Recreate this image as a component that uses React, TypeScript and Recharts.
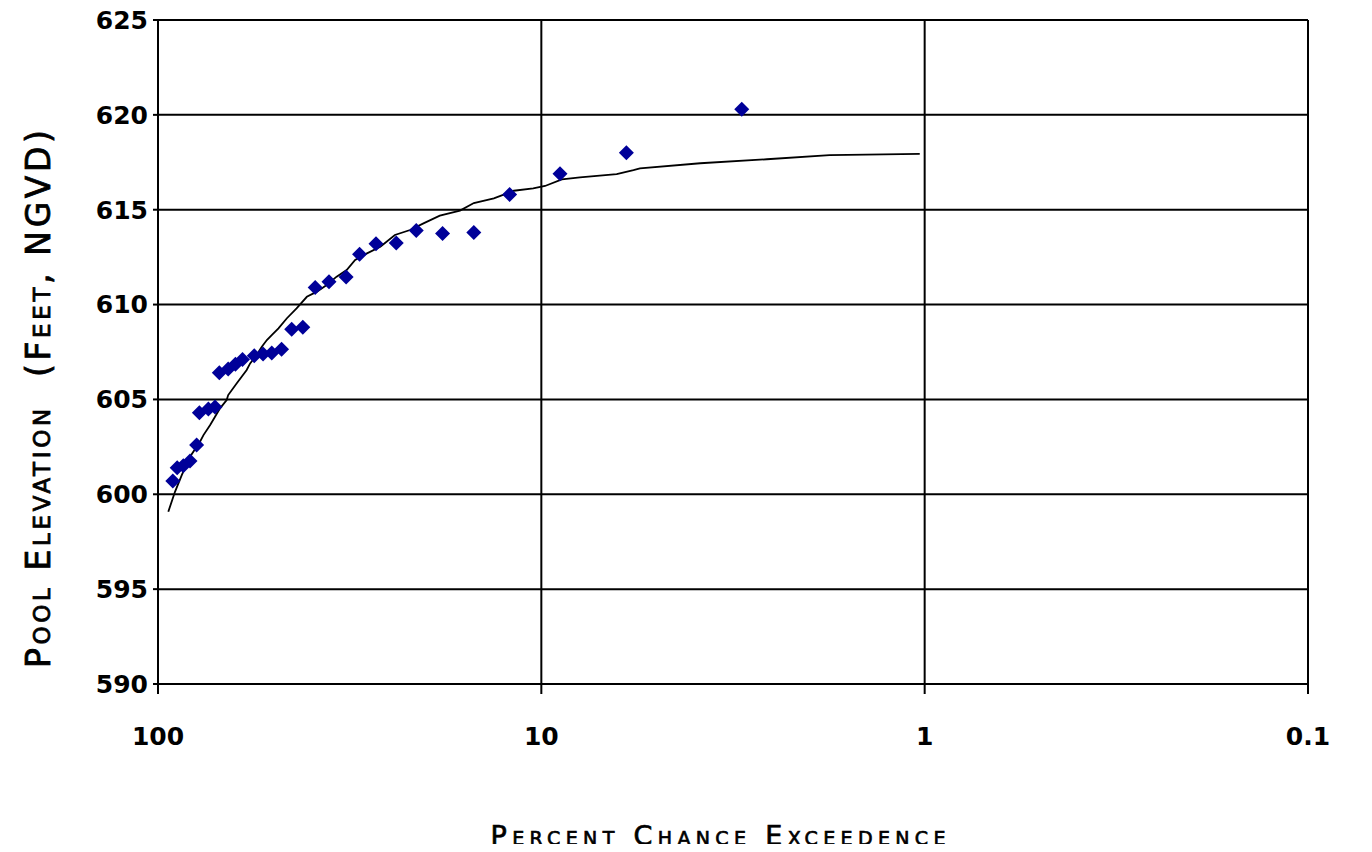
import React from 'react';
import { ComposedChart, XAxis, YAxis, CartesianGrid, Line, Scatter, Label } from 'recharts';

const pctTicks = [100, 10, 1, 0.1];
const elevTicks = [590, 595, 600, 605, 610, 615, 620, 625];

const obsPct = [91.5, 89.1, 85.9, 82.5, 79.3, 78.0, 73.9, 71.0, 69.2, 65.6, 62.8, 60.2, 56.1, 53.2, 50.5, 47.6, 44.8, 41.9, 38.9, 35.8, 32.3, 29.8, 27.0, 23.9, 21.2, 18.1, 15.0, 12.1, 8.94, 6.0, 3.0];
const obsElev = [600.7, 601.4, 601.5, 601.75, 602.6, 604.3, 604.5, 604.6, 606.4, 606.6, 606.85, 607.1, 607.3, 607.4, 607.45, 607.65, 608.7, 608.8, 610.9, 611.2, 611.45, 612.65, 613.2, 613.25, 613.9, 613.75, 613.8, 615.8, 616.9, 618.0, 620.3];

const curvePct = [94.0, 90.3, 86.7, 82.5, 77.7, 76.1, 73.1, 71.0, 68.9, 66.2, 65.6, 62.3, 60.5, 58.7, 57.5, 55.3, 53.6, 52.0, 50.5, 48.5, 46.1, 43.5, 40.9, 38.5, 36.3, 34.2, 32.2, 30.6, 28.5, 26.3, 24.1, 22.0, 20.3, 18.4, 16.3, 15.0, 13.3, 11.8, 10.5, 9.78, 8.84, 7.93, 6.36, 5.75, 5.53, 3.85, 2.58, 1.77, 1.03];
const curveElev = [599.08, 600.13, 601.01, 601.98, 602.77, 603.12, 603.65, 604.09, 604.53, 604.97, 605.23, 605.85, 606.2, 606.55, 606.9, 607.34, 607.78, 608.13, 608.39, 608.75, 609.28, 609.8, 610.41, 610.68, 611.03, 611.47, 611.82, 612.35, 612.7, 613.05, 613.67, 613.93, 614.28, 614.69, 614.95, 615.35, 615.6, 616.0, 616.12, 616.25, 616.6, 616.71, 616.88, 617.09, 617.18, 617.45, 617.66, 617.88, 617.94];

const obsData = obsPct.map((p, i) => ({ pct: p, elev: obsElev[i] }));
const curveData = curvePct.map((p, i) => ({ pct: p, elev: curveElev[i] }));

const FONT = '"DejaVu Sans", sans-serif';

const Diamond = (props: any) => {
  const { cx, cy } = props;
  if (cx == null || cy == null) return <g />;
  const r = 7.5;
  return (
    <polygon
      points={`${cx},${cy - r} ${cx + r},${cy} ${cx},${cy + r} ${cx - r},${cy}`}
      fill="#000099"
    />
  );
};

const tickStyle = { fontFamily: FONT, fontSize: 25, fontWeight: 'bold', fill: '#000' };

export default function App() {
  return (
    <div style={{ width: 1356, height: 852, marginTop: -8, marginBottom: -8 }}>
      <ComposedChart
        width={1356}
        height={852}
        margin={{ top: 20, right: 56, bottom: 8, left: 0 }}
      >
        <CartesianGrid stroke="#000" strokeWidth={2} fill="none" />
        <XAxis
          dataKey="pct"
          type="number"
          scale="log"
          domain={[0.1, 100]}
          reversed
          allowDataOverflow
          ticks={pctTicks}
          interval={0}
          height={160}
          tickSize={10}
          tickMargin={33}
          axisLine={{ stroke: '#000', strokeWidth: 2 }}
          tickLine={{ stroke: '#000', strokeWidth: 2 }}
          tick={tickStyle}
          tickFormatter={(v: number) => String(v)}
        >
          <Label
            content={(p: any) => {
              const vb = p.viewBox || {};
              const cx = vb.x + vb.width / 2 - 15;
              const cy = vb.y + 151;
              return (
                <text
                  x={cx}
                  y={cy}
                  textAnchor="middle"
                  dominantBaseline="central"
                  textLength={455}
                  lengthAdjust="spacing"
                  stroke="#000"
                  strokeWidth={0.7}
                  style={{ fontFamily: FONT, fontSize: 27, fontWeight: 'normal', fontVariant: 'small-caps', fill: '#000' }}
                >
                  Percent Chance Exceedence
                </text>
              );
            }}
          />
        </XAxis>
        <YAxis
          type="number"
          domain={[590, 625]}
          ticks={elevTicks}
          interval={0}
          width={150}
          tickSize={5}
          tickMargin={5}
          axisLine={{ stroke: '#000', strokeWidth: 2 }}
          tickLine={{ stroke: '#000', strokeWidth: 2 }}
          tick={tickStyle}
        >
          <Label
            content={(p: any) => {
              const vb = p.viewBox || {};
              const cx = (vb.x || 0) + 30;
              const cy = vb.y + vb.height / 2 + 47;
              return (
                <text
                  x={cx}
                  y={cy}
                  textAnchor="middle"
                  dominantBaseline="central"
                  transform={`rotate(-90 ${cx} ${cy})`}
                  textLength={538}
                  lengthAdjust="spacing"
                  stroke="#000"
                  strokeWidth={0.8}
                  style={{ fontFamily: FONT, fontSize: 33, fontWeight: 'normal', fontVariant: 'small-caps', fill: '#000', whiteSpace: 'pre' }}
                >
                  {'Pool Elevation  (Feet, NGVD)'}
                </text>
              );
            }}
          />
        </YAxis>
        <Line
          data={curveData}
          dataKey="elev"
          type="linear"
          stroke="#000"
          strokeWidth={1.8}
          dot={false}
          activeDot={false}
          isAnimationActive={false}
        />
        <Scatter data={obsData} dataKey="elev" shape={<Diamond />} isAnimationActive={false} />
      </ComposedChart>
    </div>
  );
}
